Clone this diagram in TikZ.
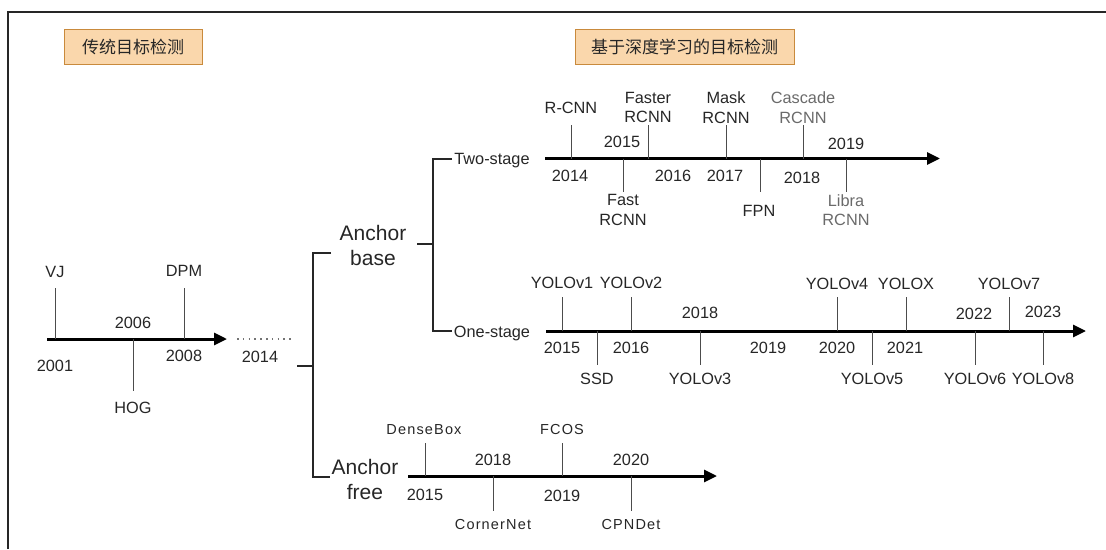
\documentclass[tikz,border=0pt]{standalone}
\usepackage{fontspec}
\setmainfont{Liberation Sans}
\newfontfamily\cjk{Noto Sans CJK SC}
\newfontfamily\spacedfont[LetterSpace=8]{Liberation Sans}
\usetikzlibrary{arrows.meta}
\definecolor{boxfill}{HTML}{FAD7AC}
\definecolor{boxline}{HTML}{C98A3C}
\definecolor{txt}{HTML}{262626}
\definecolor{graytxt}{HTML}{6A6A6A}
\begin{document}
\begin{tikzpicture}[x=1pt,y=-1pt,
  frame/.style={line width=1.5pt, draw=black!85},
  titlebox/.style={draw=boxline, fill=boxfill, line width=1pt, inner sep=0pt,
    font=\cjk\fontsize{17}{20}\selectfont, text=txt},
  axis/.style={line width=3pt, draw=black, -{Triangle[length=13pt,width=12pt]}},
  tickline/.style={line width=1pt, draw=black!70},
  bracket/.style={line width=1.5pt, draw=black!85},
  lbl/.style={inner sep=0pt, align=center, text=txt, font=\fontsize{16.3}{19.5}\selectfont},
  glbl/.style={lbl, text=graytxt},
  slbl/.style={inner sep=0pt, align=center, text=txt, font=\spacedfont\fontsize{14.5}{18}\selectfont},
  big/.style={inner sep=0pt, align=center, text=txt, font=\fontsize{21}{25.5}\selectfont},
  dots/.style={line width=1.5pt, draw=black!55, dash pattern=on 1.5pt off 4.3pt}
]
\useasboundingbox (0,0) rectangle (1106,549);

% frame
\coordinate (fBL) at (8,549);
\coordinate (fTL) at (8,12);
\coordinate (fTR) at (1106,12);
\draw[frame] (fBL) -- (fTL) -- (fTR);

% title boxes
\node[titlebox, minimum width=138pt, minimum height=35pt] (t1) at (133,46.5) {传统目标检测};
\node[titlebox, minimum width=219pt, minimum height=35pt] (t2) at (684.5,46.5) {基于深度学习的目标检测};

% ---------- left timeline ----------
\coordinate (L0) at (47,339);
\coordinate (L1) at (227,339);
\draw[axis] (L0) -- (L1);
\node[lbl] (vj) at (55,272) {VJ};
\node[lbl] (dpm) at (184,271) {DPM};
\node[lbl] (hog) at (133,408) {HOG};
\node[lbl] (y2001) at (55,366) {2001};
\node[lbl] (y2006) at (133,323) {2006};
\node[lbl] (y2008) at (184,356) {2008};
\coordinate (vjT) at (55,288); \coordinate (vjB) at (55,339);
\coordinate (dpmT) at (184,288); \coordinate (dpmB) at (184,339);
\coordinate (hogT) at (133,339); \coordinate (hogB) at (133,391);
\draw[tickline] (vjT) -- (vjB);
\draw[tickline] (dpmT) -- (dpmB);
\draw[tickline] (hogT) -- (hogB);
\coordinate (d0) at (237,339); \coordinate (d1) at (294,339);
\draw[dots] (d0) -- (d1);
\node[lbl] (y2014) at (260,357) {2014};

% left bracket
\coordinate (b0) at (297,366);
\coordinate (b1) at (313,366);
\coordinate (b2) at (313,253);
\coordinate (b3) at (331,253);
\coordinate (b4) at (313,477);
\coordinate (b5) at (330,477);
\draw[bracket] (b0) -- (b1);
\draw[bracket] (b3) -- (b2) -- (b4) -- (b5);
\node[big] (abase) at (373,245.5) {Anchor\\base};
\node[big] (afree) at (365,479.5) {Anchor\\free};

% right bracket
\coordinate (c0) at (417,244);
\coordinate (c1) at (433,244);
\coordinate (c2) at (433,159);
\coordinate (c3) at (452,159);
\coordinate (c4) at (433,331);
\coordinate (c5) at (452,331);
\draw[bracket] (c0) -- (c1);
\draw[bracket] (c3) -- (c2) -- (c4) -- (c5);
\node[lbl] (two) at (492,161) {Two-stage};
\node[lbl] (one) at (492,333) {One-stage};

% ---------- two-stage ----------
\coordinate (T0) at (545,158.5);
\coordinate (T1) at (940,158.5);
\draw[axis] (T0) -- (T1);
\node[lbl] (rcnn) at (571,108) {R-CNN};
\node[lbl] (faster) at (648,107.5) {Faster\\RCNN};
\node[lbl] (mask) at (726,107.5) {Mask\\RCNN};
\node[glbl] (cascade) at (803,107.5) {Cascade\\RCNN};
\node[lbl] (fast) at (623,210) {Fast\\RCNN};
\node[lbl] (fpn) at (759,211) {FPN};
\node[glbl] (libra) at (846,210) {Libra\\RCNN};
\foreach \n/\x in {rcnn/571, faster/648, mask/726, cascade/803}{
  \coordinate (\n T) at (\x,125); \coordinate (\n B) at (\x,158.5);
  \draw[tickline] (\n T) -- (\n B);
}
\foreach \n/\x in {fast/623, fpn/760, libra/846}{
  \coordinate (\n T) at (\x,158.5); \coordinate (\n B) at (\x,192);
  \draw[tickline] (\n T) -- (\n B);
}
\node[lbl] (ta) at (570,176) {2014};
\node[lbl] (tb) at (622,142) {2015};
\node[lbl] (tc) at (673,176) {2016};
\node[lbl] (td) at (725,176) {2017};
\node[lbl] (te) at (802,178) {2018};
\node[lbl] (tf) at (846,144) {2019};

% ---------- one-stage ----------
\coordinate (O0) at (546,331);
\coordinate (O1) at (1086,331);
\draw[axis] (O0) -- (O1);
\node[lbl] (v1) at (562,283) {YOLOv1};
\node[lbl] (v2) at (631,283) {YOLOv2};
\node[lbl] (v4) at (837,284) {YOLOv4};
\node[lbl] (vx) at (906,284) {YOLOX};
\node[lbl] (v7) at (1009,284) {YOLOv7};
\node[lbl] (ssd) at (597,379) {SSD};
\node[lbl] (v3) at (700,379) {YOLOv3};
\node[lbl] (v5) at (872,379) {YOLOv5};
\node[lbl] (v6) at (975,379) {YOLOv6};
\node[lbl] (v8) at (1043,379) {YOLOv8};
\foreach \n/\x in {v1/562, v2/631, v4/837, vx/906, v7/1009}{
  \coordinate (\n T) at (\x,297); \coordinate (\n B) at (\x,331);
  \draw[tickline] (\n T) -- (\n B);
}
\foreach \n/\x in {ssd/597, v3/700, v5/872, v6/975, v8/1043}{
  \coordinate (\n T) at (\x,331); \coordinate (\n B) at (\x,365);
  \draw[tickline] (\n T) -- (\n B);
}
\node[lbl] (oa) at (562,348) {2015};
\node[lbl] (ob) at (631,348) {2016};
\node[lbl] (oc) at (700,313) {2018};
\node[lbl] (od) at (768,348) {2019};
\node[lbl] (oe) at (837,348) {2020};
\node[lbl] (of) at (905,348) {2021};
\node[lbl] (og) at (974,314) {2022};
\node[lbl] (oh) at (1043,312) {2023};

% ---------- anchor free ----------
\coordinate (F0) at (408,476);
\coordinate (F1) at (717,476);
\draw[axis] (F0) -- (F1);
\node[slbl] (dense) at (424,430) {DenseBox};
\node[slbl] (fcos) at (562,430) {FCOS};
\node[slbl] (corner) at (493,525) {CornerNet};
\node[slbl] (cpn) at (631,525) {CPNDet};
\foreach \n/\x in {dense/425, fcos/562}{
  \coordinate (\n T) at (\x,443); \coordinate (\n B) at (\x,476);
  \draw[tickline] (\n T) -- (\n B);
}
\foreach \n/\x in {corner/493, cpn/631}{
  \coordinate (\n T) at (\x,476); \coordinate (\n B) at (\x,511);
  \draw[tickline] (\n T) -- (\n B);
}
\node[lbl] (fa) at (425,495) {2015};
\node[lbl] (fb) at (493,460) {2018};
\node[lbl] (fc) at (562,496) {2019};
\node[lbl] (fd) at (631,460) {2020};
\end{tikzpicture}
\end{document}
